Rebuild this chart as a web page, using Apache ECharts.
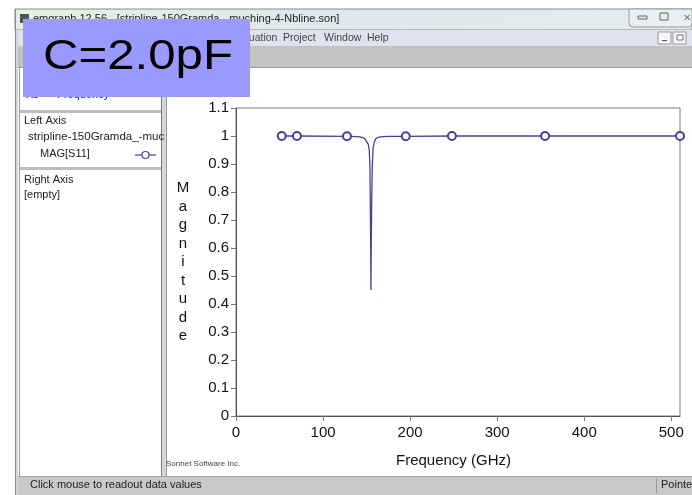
<!DOCTYPE html>
<html>
<head>
<meta charset="utf-8">
<script src="https://cdn.jsdelivr.net/npm/echarts@6/dist/echarts.min.js"></script>
<style>
  html, body { margin: 0; padding: 0; background: #ffffff; }
  #chart { width: 692px; height: 495px; }
</style>
</head>
<body>
<div id="chart"></div>
<script>
// |S11| of the stripline resonator versus frequency
const freqGHz = [52.5, 70, 127.5, 140, 145, 148, 150, 152, 153, 153.8, 154.3, 154.7, 155,
                 155.3, 155.8, 156.6, 157.6, 159, 160.6, 163, 168, 175, 195, 248, 355, 510];
const magS11  = [1.0, 1.0, 0.999, 0.998, 0.995, 0.99, 0.985, 0.97, 0.95, 0.9, 0.75, 0.6, 0.45,
                 0.6, 0.75, 0.9, 0.96, 0.98, 0.99, 0.995, 0.998, 0.999, 0.999, 1.0, 1.0, 1.0];
// frequencies that were actually simulated (drawn with a marker)
const sampledGHz = [52.5, 70, 127.5, 195, 248, 355, 510];

const xTicks = [0, 100, 200, 300, 400, 500];
const yMin = 0, yMax = 1.1, yStep = 0.1;
const xMin = 0, xMax = 510, xStep = 100;

const traceColor = '#42429a';
const uiFont = 'Liberation Sans';

const seriesData = freqGHz.map((f, i) => ({
  value: [f, magS11[i]],
  symbol: sampledGHz.includes(f) ? 'emptyCircle' : 'none'
}));

const menuText = (x, label) => ({
  type: 'text', x: x, y: 38,
  style: { text: label, font: '10.5px ' + uiFont, fill: '#444', verticalAlign: 'middle' }, z: 2
});

// window decoration around the plot
const chrome = [
  // title bar
  { type: 'rect', shape: { x: 15, y: 9, width: 677, height: 21 },
    style: { fill: { type: 'linear', x: 0, y: 0, x2: 1, y2: 0,
      colorStops: [{ offset: 0, color: '#e6eee4' }, { offset: 0.5, color: '#dfe8ec' }, { offset: 1, color: '#e4ebee' }] },
      stroke: '#8a8a8a', lineWidth: 1 }, z: 1 },
  { type: 'rect', shape: { x: 20, y: 14, width: 9, height: 9 }, style: { fill: '#555' }, z: 2 },
  { type: 'text', x: 33, y: 19, style: { text: 'emgraph 12.56 - [stripline-150Gramda_-muching-4-Nbline.son]',
      font: '11px ' + uiFont, fill: '#222', verticalAlign: 'middle' }, z: 2 },
  { type: 'rect', shape: { x: 629, y: 9, width: 63, height: 18, r: [0, 0, 4, 4] },
    style: { fill: '#e9eef0', stroke: '#9a9a9a', lineWidth: 1 }, z: 2 },
  { type: 'rect', shape: { x: 638, y: 16, width: 9, height: 3 }, style: { fill: 'none', stroke: '#666', lineWidth: 1 }, z: 3 },
  { type: 'rect', shape: { x: 660, y: 13, width: 8, height: 7 }, style: { fill: 'none', stroke: '#666', lineWidth: 1 }, z: 3 },
  { type: 'text', x: 683, y: 18, style: { text: '\u2715', font: '10px DejaVu Sans', fill: '#777', verticalAlign: 'middle' }, z: 3 },

  // menu bar
  { type: 'rect', shape: { x: 18, y: 30, width: 674, height: 16 }, style: { fill: '#dde4f0' }, z: 1 },
  menuText(24, 'File'), menuText(50, 'Edit'), menuText(77, 'View'),
  menuText(236, 'Equation'), menuText(283, 'Project'), menuText(324, 'Window'), menuText(367, 'Help'),
  { type: 'rect', shape: { x: 658, y: 32, width: 13, height: 12 }, style: { fill: '#f4f6fa', stroke: '#999' }, z: 2 },
  { type: 'rect', shape: { x: 673, y: 32, width: 13, height: 12 }, style: { fill: '#f4f6fa', stroke: '#999' }, z: 2 },
  { type: 'rect', shape: { x: 662, y: 40, width: 5, height: 1 }, style: { fill: '#555' }, z: 3 },
  { type: 'rect', shape: { x: 677, y: 35, width: 6, height: 5 }, style: { fill: 'none', stroke: '#555', lineWidth: 0.8 }, z: 3 },

  // tool bar
  { type: 'rect', shape: { x: 18, y: 46, width: 674, height: 21 }, style: { fill: '#c2c2c2' }, z: 1 },
  { type: 'line', shape: { x1: 18, y1: 67.5, x2: 692, y2: 67.5 }, style: { stroke: '#9a9a9a', lineWidth: 1 }, z: 1 },
  { type: 'text', x: 246, y: 57, style: { text: ']', font: '13px ' + uiFont, fill: '#333', verticalAlign: 'middle' }, z: 3 },

  // window frame left edge
  { type: 'rect', shape: { x: 15, y: 30, width: 3, height: 465 }, style: { fill: '#d4d4d4' }, z: 1 },
  { type: 'line', shape: { x1: 15.5, y1: 9, x2: 15.5, y2: 495 }, style: { stroke: '#8a8a8a', lineWidth: 1 }, z: 1 },

  // trace list panel
  { type: 'rect', shape: { x: 161, y: 68, width: 5, height: 408 }, style: { fill: '#d6d6d6' }, z: 1 },
  { type: 'line', shape: { x1: 161.5, y1: 68, x2: 161.5, y2: 476 }, style: { stroke: '#7a7a7a', lineWidth: 1 }, z: 1 },
  { type: 'line', shape: { x1: 166.5, y1: 68, x2: 166.5, y2: 476 }, style: { stroke: '#9a9a9a', lineWidth: 1 }, z: 1 },
  { type: 'line', shape: { x1: 19.5, y1: 68, x2: 19.5, y2: 476 }, style: { stroke: '#9a9a9a', lineWidth: 1 }, z: 1 },
  { type: 'rect', shape: { x: 20, y: 110, width: 141, height: 3 }, style: { fill: '#bdbdbd' }, z: 1 },
  { type: 'rect', shape: { x: 20, y: 167, width: 141, height: 3 }, style: { fill: '#bdbdbd' }, z: 1 },
  { type: 'text', x: 26, y: 95, style: { text: 'Xs      Frequency', font: '11px ' + uiFont, fill: '#222', verticalAlign: 'middle' }, z: 2 },
  { type: 'text', x: 24, y: 121, style: { text: 'Left Axis', font: '11px ' + uiFont, fill: '#222', verticalAlign: 'middle' }, z: 2 },
  { type: 'text', x: 28, y: 137, style: { text: 'stripline-150Gramda_-muc', font: '11.5px ' + uiFont, fill: '#222', verticalAlign: 'middle' }, z: 2 },
  { type: 'text', x: 40, y: 154, style: { text: 'MAG[S11]', font: '11px ' + uiFont, fill: '#222', verticalAlign: 'middle' }, z: 2 },
  { type: 'line', shape: { x1: 135, y1: 155, x2: 156, y2: 155 }, style: { stroke: traceColor, lineWidth: 1.2 }, z: 2 },
  { type: 'circle', shape: { cx: 145.5, cy: 155, r: 3.5 }, style: { fill: '#fff', stroke: traceColor, lineWidth: 1.2 }, z: 3 },
  { type: 'text', x: 24, y: 180, style: { text: 'Right Axis', font: '11px ' + uiFont, fill: '#222', verticalAlign: 'middle' }, z: 2 },
  { type: 'text', x: 24, y: 195, style: { text: '[empty]', font: '11px ' + uiFont, fill: '#222', verticalAlign: 'middle' }, z: 2 },

  // credit line
  { type: 'text', x: 166, y: 464, style: { text: 'Sonnet Software Inc.', font: '8px ' + uiFont, fill: '#444', verticalAlign: 'middle' }, z: 2 },

  // status bar
  { type: 'rect', shape: { x: 18, y: 476, width: 674, height: 19 }, style: { fill: '#c9c9c9' }, z: 1 },
  { type: 'line', shape: { x1: 18, y1: 476.5, x2: 692, y2: 476.5 }, style: { stroke: '#a0a0a0', lineWidth: 1 }, z: 2 },
  { type: 'line', shape: { x1: 656.5, y1: 478, x2: 656.5, y2: 493 }, style: { stroke: '#9a9a9a', lineWidth: 1 }, z: 2 },
  { type: 'text', x: 30, y: 485, style: { text: 'Click mouse to readout data values', font: '11px ' + uiFont, fill: '#222', verticalAlign: 'middle' }, z: 2 },
  { type: 'text', x: 661, y: 485, style: { text: 'Pointer', font: '11px ' + uiFont, fill: '#222', verticalAlign: 'middle' }, z: 2 },

  // capacitance caption
  { type: 'rect', shape: { x: 23, y: 19, width: 227, height: 78 }, style: { fill: '#9999ff' }, z: 10 },
  { type: 'text', x: 138, y: 57, scaleX: 1.17, originX: 0, originY: 0,
    style: { text: 'C=2.0pF', font: '42px ' + uiFont, fill: '#000', align: 'center', verticalAlign: 'middle' }, z: 11 }
];

const chart = echarts.init(document.getElementById('chart'), null, { renderer: 'canvas' });
chart.setOption({
  animation: false,
  backgroundColor: '#ffffff',
  graphic: { elements: chrome },
  grid: { left: 236, top: 108, right: 12, bottom: 79, show: true,
          borderColor: '#7a7a7a', borderWidth: 1, backgroundColor: 'transparent' },
  xAxis: {
    type: 'value', min: xMin, max: xMax, interval: xStep,
    name: 'Frequency (GHz)', nameLocation: 'middle', nameGap: 37,
    nameTextStyle: { fontFamily: uiFont, fontSize: 15, color: '#111', padding: [0, 9, 0, 0] },
    axisLine: { show: true, lineStyle: { color: '#555', width: 1 } },
    axisTick: { show: true, length: 5, lineStyle: { color: '#777' }, customValues: xTicks },
    axisLabel: { fontFamily: uiFont, fontSize: 15, color: '#111', margin: 9, customValues: xTicks,
                 formatter: v => (xTicks.includes(v) ? String(v) : '') },
    splitLine: { show: false }
  },
  yAxis: {
    type: 'value', min: yMin, max: yMax, interval: yStep,
    name: 'M\na\ng\nn\ni\nt\nu\nd\ne', nameLocation: 'middle', nameGap: 53, nameRotate: 0,
    nameTextStyle: { fontFamily: uiFont, fontSize: 15, color: '#111', lineHeight: 18.5,
                     align: 'center', verticalAlign: 'middle' },
    axisLine: { show: true, lineStyle: { color: '#555', width: 1 } },
    axisTick: { show: true, length: 5, lineStyle: { color: '#777' } },
    axisLabel: { fontFamily: uiFont, fontSize: 15, color: '#111', margin: 7 },
    splitLine: { show: false }
  },
  series: [{
    name: 'MAG[S11]',
    type: 'line',
    data: seriesData,
    showAllSymbol: true,
    symbolSize: 8,
    clip: true,
    lineStyle: { color: traceColor, width: 1.3 },
    itemStyle: { color: traceColor, borderColor: traceColor, borderWidth: 1.3 },
    z: 3
  }]
});
</script>
</body>
</html>
